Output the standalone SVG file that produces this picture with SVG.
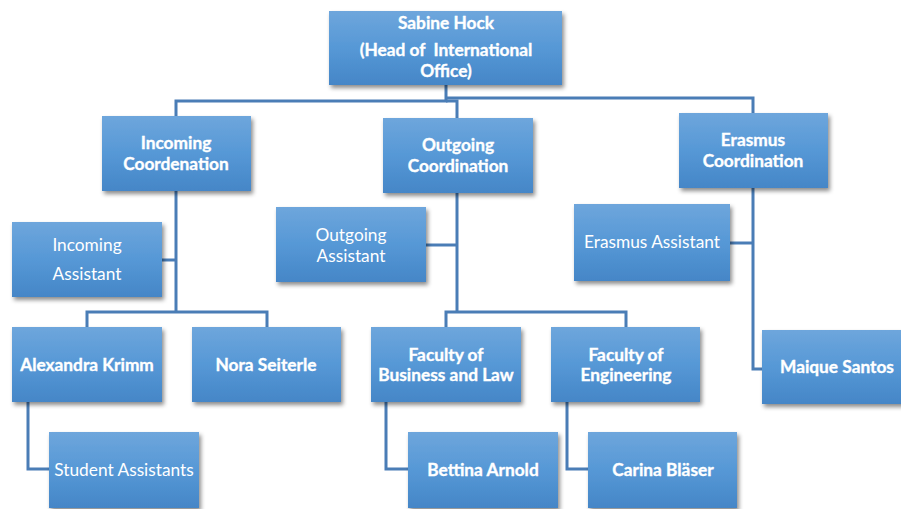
<svg xmlns="http://www.w3.org/2000/svg" width="901" height="509" viewBox="0 0 901 509">
  <style>
    .box { fill: url(#boxFill); filter: url(#shadow); }
    .lbl { font-family: Lato, "Open Sans", "Liberation Sans", sans-serif; font-size: 17.3px; fill: #ffffff; text-anchor: middle; }
    .b { font-weight: bold; stroke: #ffffff; stroke-width: 0.35px; }
    .wire { fill: none; stroke: #4a7db6; stroke-width: 3; }
  </style>
  <defs>
    <linearGradient id="boxFill" x1="0" y1="0" x2="0" y2="1">
      <stop offset="0" stop-color="#6ea6dc"/>
      <stop offset="0.5" stop-color="#5698d6"/>
      <stop offset="1" stop-color="#4586c7"/>
    </linearGradient>
    <filter id="shadow" x="-10%" y="-10%" width="125%" height="135%">
      <feDropShadow dx="2" dy="3" stdDeviation="2" flood-color="#000000" flood-opacity="0.45"/>
    </filter>
  </defs>

  <rect width="901" height="509" fill="#ffffff"/>

  <!-- connectors -->
  <g id="connectors">
    <polyline class="wire" points="446,85 446,101 176,101 176,116"/>
    <polyline class="wire" points="446,98 753,98 753,113"/>
    <polyline class="wire" points="446,101 457,101 457,118"/>
    <polyline class="wire" points="176,191 176,312"/>
    <polyline class="wire" points="162,260 176,260"/>
    <polyline class="wire" points="87,327 87,312 267,312 267,327"/>
    <polyline class="wire" points="28,402 28,469 49,469"/>
    <polyline class="wire" points="457,193 457,312"/>
    <polyline class="wire" points="426,245 457,245"/>
    <polyline class="wire" points="446,327 446,312 626,312 626,327"/>
    <polyline class="wire" points="386,402 386,469 408,469"/>
    <polyline class="wire" points="567,402 567,469 588,469"/>
    <polyline class="wire" points="753,188 753,369 762,369"/>
    <polyline class="wire" points="730,243 753,243"/>
  </g>

  <g id="head">
    <rect class="box" x="329" y="11" width="233" height="74"/>
    <text class="lbl b" x="446" y="29">Sabine Hock</text>
    <text class="lbl b" x="446" y="56" xml:space="preserve">(Head of  International</text>
    <text class="lbl b" x="446" y="77">Office)</text>
  </g>

  <g id="incoming-coord">
    <rect class="box" x="102" y="116" width="149" height="75"/>
    <text class="lbl b" x="176" y="149">Incoming</text>
    <text class="lbl b" x="176" y="170">Coordenation</text>
  </g>

  <g id="outgoing-coord">
    <rect class="box" x="383" y="118" width="150" height="75"/>
    <text class="lbl b" x="458" y="151">Outgoing</text>
    <text class="lbl b" x="458" y="172">Coordination</text>
  </g>

  <g id="erasmus-coord">
    <rect class="box" x="679" y="113" width="149" height="75"/>
    <text class="lbl b" x="753" y="146">Erasmus</text>
    <text class="lbl b" x="753" y="167">Coordination</text>
  </g>

  <g id="incoming-assistant">
    <rect class="box" x="12" y="222" width="150" height="75"/>
    <text class="lbl" x="87" y="251">Incoming</text>
    <text class="lbl" x="87" y="280">Assistant</text>
  </g>

  <g id="outgoing-assistant">
    <rect class="box" x="276" y="207" width="150" height="75"/>
    <text class="lbl" x="351" y="241">Outgoing</text>
    <text class="lbl" x="351" y="262">Assistant</text>
  </g>

  <g id="erasmus-assistant">
    <rect class="box" x="574" y="204" width="156" height="77"/>
    <text class="lbl" x="652" y="248">Erasmus Assistant</text>
  </g>

  <g id="alexandra-krimm">
    <rect class="box" x="12" y="327" width="150" height="75"/>
    <text class="lbl b" x="87" y="371">Alexandra Krimm</text>
  </g>

  <g id="nora-seiterle">
    <rect class="box" x="192" y="327" width="149" height="75"/>
    <text class="lbl b" x="266" y="371">Nora Seiterle</text>
  </g>

  <g id="student-assistants">
    <rect class="box" x="49" y="432" width="150" height="76"/>
    <text class="lbl" x="124" y="476">Student Assistants</text>
  </g>

  <g id="faculty-business-law">
    <rect class="box" x="371" y="327" width="150" height="75"/>
    <text class="lbl b" x="446" y="361">Faculty of</text>
    <text class="lbl b" x="446" y="381">Business and Law</text>
  </g>

  <g id="faculty-engineering">
    <rect class="box" x="551" y="327" width="149" height="75"/>
    <text class="lbl b" x="626" y="361">Faculty of</text>
    <text class="lbl b" x="626" y="381">Engineering</text>
  </g>

  <g id="bettina-arnold">
    <rect class="box" x="408" y="432" width="150" height="76"/>
    <text class="lbl b" x="483" y="476">Bettina Arnold</text>
  </g>

  <g id="carina-blaeser">
    <rect class="box" x="588" y="432" width="149" height="76"/>
    <text class="lbl b" x="663" y="476">Carina Bläser</text>
  </g>

  <g id="maique-santos">
    <rect class="box" x="762" y="330" width="150" height="74"/>
    <text class="lbl b" x="837" y="373">Maique Santos</text>
  </g>
</svg>
